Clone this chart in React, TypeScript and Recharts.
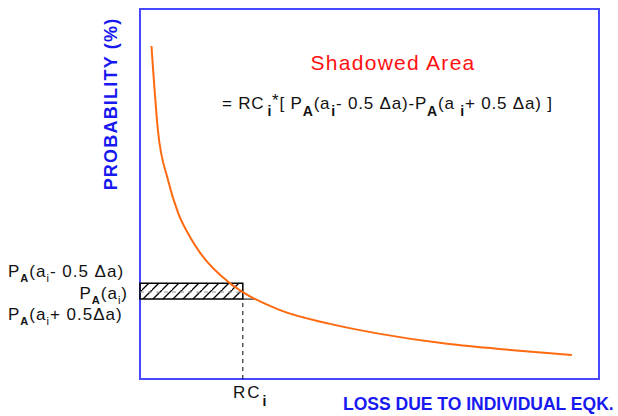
import React from 'react'
import {
  ComposedChart,
  Line,
  XAxis,
  YAxis,
  ReferenceArea,
  ReferenceLine,
} from 'recharts'

// loss (x) vs exceedance probability (y), both in % of the plotted range
const lossValues = [2.5, 3.9, 6.1, 8.3, 10.9, 13.1, 19.6, 22.4, 30.5, 41.4, 52.3, 66.9, 81.3, 94.1]
const probValues = [90.0, 67.3, 53.8, 44.9, 38.4, 34.1, 25.9, 23.5, 18.6, 14.9, 12.2, 9.5, 7.8, 6.5]

// the shaded strip around loss a_i
const rcX = [22.4]
const stripProb = [21.6, 23.5, 25.9] // P(a_i + 0.5da), P(a_i), P(a_i - 0.5da)

const curve = lossValues.map((x, i) => ({ x, y: probValues[i] }))

const W = 618
const H = 416
const FONT = '"Liberation Sans", Arial, sans-serif'
const BLUE = '#1818f0'

export default function App() {
  const [pLow, pMid, pHigh] = stripProb
  return (
    <div style={{ position: 'absolute', left: 0, top: 0, width: W, height: H, background: '#fff' }}>
      <ComposedChart
        width={W}
        height={H}
        data={curve}
        margin={{ top: 9, right: 19, left: 140, bottom: 37 }}
      >
        <defs>
          <pattern id="hatch" patternUnits="userSpaceOnUse" width="10" height="10" patternTransform="translate(2,0)">
            <path d="M-2,12 L12,-2 M-7,7 L3,-3 M7,17 L17,7" stroke="#000" strokeWidth={1.3} />
          </pattern>
        </defs>
        <XAxis type="number" dataKey="x" domain={[0, 100]} hide />
        <YAxis type="number" domain={[0, 100]} hide />
        <ReferenceArea x1={0} x2={100} y1={0} y2={100} fill="none" stroke="#4848ff" strokeWidth={2} />
        <ReferenceArea
          x1={0}
          x2={rcX[0]}
          y1={pLow}
          y2={pHigh}
          fill="url(#hatch)"
          fillOpacity={1}
          stroke="#000"
          strokeWidth={1.5}
        />
        <ReferenceLine
          segment={[{ x: 0, y: pMid }, { x: rcX[0], y: pMid }]}
          stroke="#999"
          strokeDasharray="4 4"
          strokeWidth={1}
        />
        <ReferenceLine
          segment={[{ x: rcX[0], y: pLow }, { x: rcX[0] + 2.6, y: pLow }]}
          stroke="#000"
          strokeWidth={1}
        />
        <ReferenceLine
          segment={[{ x: rcX[0], y: 0 }, { x: rcX[0], y: pLow }]}
          stroke="#000"
          strokeDasharray="4 4"
          strokeWidth={1}
        />
        <Line
          type="monotone"
          dataKey="y"
          stroke="#ff6a10"
          strokeWidth={2}
          dot={false}
          isAnimationActive={false}
        />
      </ComposedChart>

      <svg width={W} height={H} style={{ position: 'absolute', left: 0, top: 0, pointerEvents: 'none' }}>
        <text
          x={111}
          y={104}
          transform="rotate(-90 111 104)"
          textAnchor="middle"
          dominantBaseline="central"
          fontFamily={FONT}
          fontWeight="bold"
          fontSize={18}
          letterSpacing={1.2}
          fill={BLUE}
        >
          PROBABILITY (%)
        </text>

        <text x={393} y={70} textAnchor="middle" fontFamily={FONT} fontSize={21} letterSpacing={1.3} fill="#ff1010">
          Shadowed Area
        </text>

        <text x={222} y={109} fontFamily={FONT} fontSize={17} letterSpacing={0.8} fill="#111">
          = RC
          <tspan dx={3} dy={7} fontWeight="bold" fontSize={14}>i</tspan>
          <tspan dy={-10}>*</tspan>
          <tspan dy={3}>[ P</tspan>
          <tspan dy={7} fontWeight="bold" fontSize={14}>A</tspan>
          <tspan dy={-7}>(a</tspan>
          <tspan dx={1} dy={7} fontWeight="bold" fontSize={14}>i</tspan>
          <tspan dy={-7}>- 0.5 Δa)-P</tspan>
          <tspan dy={7} fontWeight="bold" fontSize={14}>A</tspan>
          <tspan dy={-7}>(a </tspan>
          <tspan dy={7} fontWeight="bold" fontSize={14}>i</tspan>
          <tspan dy={-7}>+ 0.5 Δa) ]</tspan>
        </text>

        <text x={8} y={277} fontFamily={FONT} fontSize={17} letterSpacing={1} fill="#111">
          P
          <tspan dy={5} fontWeight="bold" fontSize={11}>A</tspan>
          <tspan dy={-5}>(a</tspan>
          <tspan dy={5} fontSize={11}>i</tspan>
          <tspan dy={-5}>- 0.5 Δa)</tspan>
        </text>
        <text x={128} y={299} textAnchor="end" fontFamily={FONT} fontSize={17} letterSpacing={1} fill="#111">
          P
          <tspan dy={5} fontWeight="bold" fontSize={11}>A</tspan>
          <tspan dy={-5}>(a</tspan>
          <tspan dy={5} fontSize={11}>i</tspan>
          <tspan dy={-5}>)</tspan>
        </text>
        <text x={8} y={320} fontFamily={FONT} fontSize={17} letterSpacing={1} fill="#111">
          P
          <tspan dy={5} fontWeight="bold" fontSize={11}>A</tspan>
          <tspan dy={-5}>(a</tspan>
          <tspan dy={5} fontSize={11}>i</tspan>
          <tspan dy={-5}>+ 0.5Δa)</tspan>
        </text>

        <text x={233} y={398} fontFamily={FONT} fontSize={17} letterSpacing={2} fill="#111">
          RC
          <tspan dx={1} dy={8} fontWeight="bold" fontSize={14}>i</tspan>
        </text>

        <text x={343} y={410} fontFamily={FONT} fontWeight="bold" fontSize={17.5} fill={BLUE}>
          LOSS DUE TO INDIVIDUAL EQK.
        </text>
      </svg>
    </div>
  )
}
